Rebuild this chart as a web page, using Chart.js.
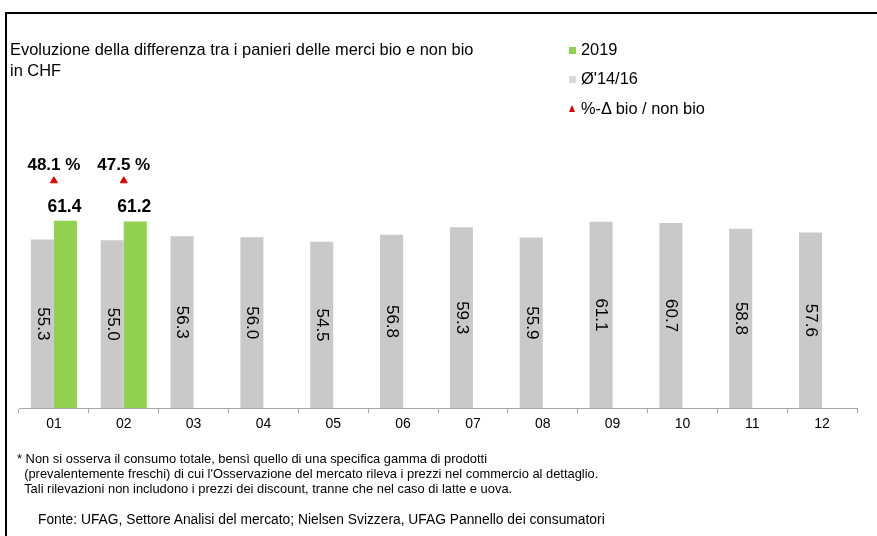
<!DOCTYPE html>
<html><head><meta charset="utf-8">
<script src="https://cdn.jsdelivr.net/npm/chart.js@4.4.1/dist/chart.umd.min.js"></script>
<style>
html,body{margin:0;padding:0;background:#fff;}
#wrap{position:relative;width:877px;height:536px;overflow:hidden;font-family:"Liberation Sans",Arial,sans-serif;color:#000;}
#frame{position:absolute;left:5px;top:12px;width:880px;height:540px;border-top:2px solid #000;border-left:2px solid #000;}
canvas{position:absolute;left:0;top:0;}
.t{position:absolute;white-space:nowrap;}
#title{left:10px;top:39px;font-size:16.4px;line-height:21px;}
.lg{position:absolute;left:569px;font-size:16.4px;line-height:18px;white-space:nowrap;}
.sq{display:inline-block;width:7px;height:7px;margin-right:5px;vertical-align:1px;}
.tri{display:inline-block;width:0;height:0;border-left:3.5px solid transparent;border-right:3.5px solid transparent;border-bottom:7px solid #e00000;margin-right:6px;vertical-align:2px;}
#foot{left:17px;top:451px;font-size:12.9px;line-height:15px;}
#src{left:38px;top:512px;font-size:13.8px;line-height:16px;}
</style></head>
<body>
<div id="wrap">
<canvas id="c" width="877" height="536"></canvas>
<div id="frame"></div>
<div class="t" id="title">Evoluzione della differenza tra i panieri delle merci bio e non bio<br>in CHF</div>
<div class="lg" style="top:40px"><span class="sq" style="background:#92d050"></span>2019</div>
<div class="lg" style="top:69px"><span class="sq" style="background:#d9d9d9"></span>Ø'14/16</div>
<div class="lg" style="top:99px"><span class="tri"></span>%-Δ bio / non bio</div>
<div class="t" id="foot">* Non si osserva il consumo totale, bensì quello di una specifica gamma di prodotti<br>&nbsp;&nbsp;(prevalentemente freschi) di cui l'Osservazione del mercato rileva i prezzi nel commercio al dettaglio.<br>&nbsp;&nbsp;Tali rilevazioni non includono i prezzi dei discount, tranne che nel caso di latte e uova.</div>
<div class="t" id="src">Fonte: UFAG, Settore Analisi del mercato; Nielsen Svizzera, UFAG Pannello dei consumatori</div>
</div>
<script>
const months = ["01","02","03","04","05","06","07","08","09","10","11","12"];
const avg1416 = [55.3,55.0,56.3,56.0,54.5,56.8,59.3,55.9,61.1,60.7,58.8,57.6];
const y2019 = [61.4,61.2,null,null,null,null,null,null,null,null,null,null];
const pctDelta = [48.1,47.5,null,null,null,null,null,null,null,null,null,null];
const markerLevel = 74.5;

const labelPlugin = {
  id:'labels',
  afterDatasetsDraw(chart){
    const ctx = chart.ctx;
    ctx.save();
    const m0 = chart.getDatasetMeta(0);
    ctx.font = '17px "Liberation Sans", Arial, sans-serif';
    ctx.fillStyle = '#000';
    ctx.textAlign = 'center';
    ctx.textBaseline = 'middle';
    m0.data.forEach((el,i)=>{
      const v = avg1416[i]; if (v==null) return;
      const cy = (el.y + el.base)/2;
      ctx.save();
      ctx.translate(el.x, cy);
      ctx.rotate(Math.PI/2);
      ctx.fillText(v.toFixed(1), 0, 0);
      ctx.restore();
    });
    const m1 = chart.getDatasetMeta(1);
    ctx.font = 'bold 17.5px "Liberation Sans", Arial, sans-serif';
    ctx.textBaseline = 'bottom';
    m1.data.forEach((el,i)=>{
      const v = y2019[i]; if (v==null) return;
      ctx.fillText(v.toFixed(1), el.x - 1, el.y - 5);
    });
    const m2 = chart.getDatasetMeta(2);
    ctx.font = 'bold 17px "Liberation Sans", Arial, sans-serif';
    m2.data.forEach((el,i)=>{
      const v = pctDelta[i]; if (v==null) return;
      ctx.fillText(v.toFixed(1)+' %', el.x, el.y - 7);
    });
    ctx.restore();
  }
};

new Chart(document.getElementById('c'), {
  type:'bar',
  data:{
    labels: months,
    datasets:[
      {label:"Ø'14/16", data: avg1416, backgroundColor:'#c9c9c9', categoryPercentage:0.66, barPercentage:1.0, order:2},
      {label:'2019', data: y2019, backgroundColor:'#92d050', categoryPercentage:0.66, barPercentage:1.0, order:2},
      {type:'line', label:'%-Δ bio / non bio', data: pctDelta.map(v=> v==null?null:markerLevel), showLine:false,
       pointStyle:'triangle', pointRadius:4, pointBackgroundColor:'#e00000', pointBorderColor:'#e00000', borderColor:'#e00000', order:1}
    ]
  },
  options:{
    responsive:false,
    devicePixelRatio:1,
    animation:false,
    layout:{padding:{left:19,right:20,top:164,bottom:100}},
    plugins:{legend:{display:false},tooltip:{enabled:false}},
    scales:{
      x:{
        grid:{display:true,drawOnChartArea:false,tickLength:5,color:'#a6a6a6',offset:true},
        border:{display:true,color:'#a6a6a6',width:1},
        ticks:{color:'#000',font:{family:'"Liberation Sans", Arial, sans-serif',size:14},padding:3}
      },
      y:{display:false,min:0,max:80}
    }
  },
  plugins:[labelPlugin]
});
</script>
</body></html>
